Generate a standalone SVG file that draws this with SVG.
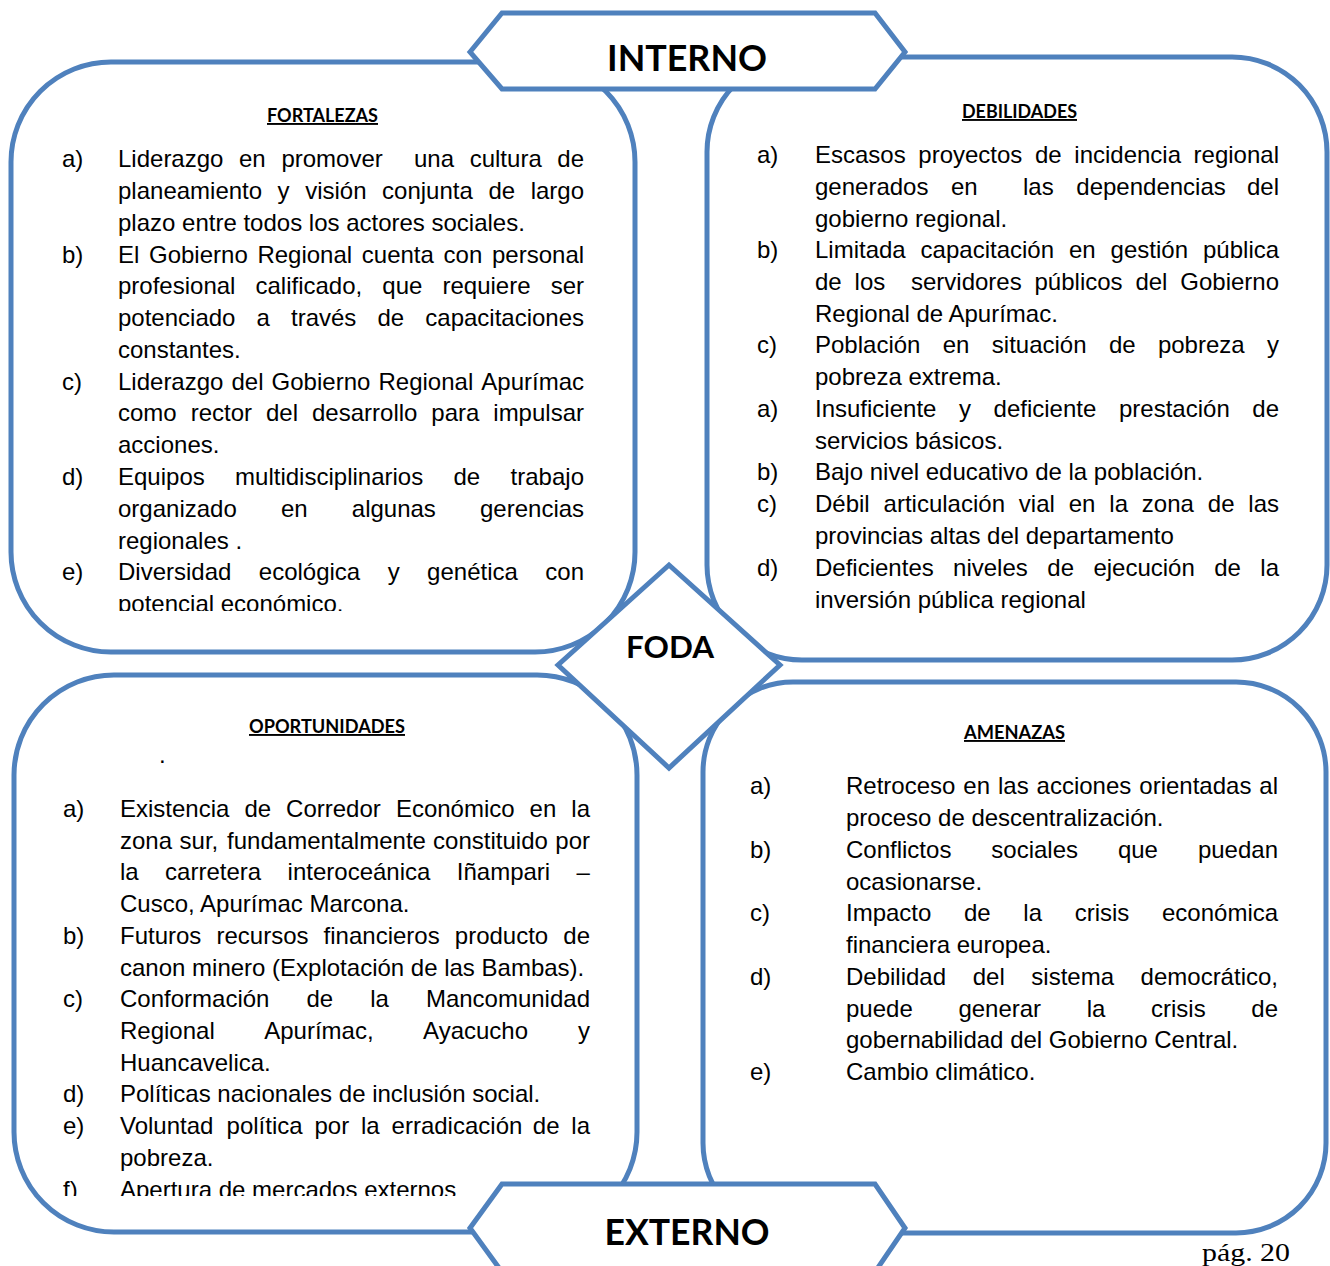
<svg xmlns="http://www.w3.org/2000/svg" width="1330" height="1266" viewBox="0 0 1330 1266">
<style>
.box{fill:#fff;stroke:#4f81bd;stroke-width:5}
.t{font-family:"Liberation Sans",Arial,sans-serif;font-size:24px;fill:#000}
.h{font-family:Lato,"Open Sans",sans-serif;font-weight:700;font-size:19px;fill:#000;text-decoration:underline;text-anchor:middle}
.big{font-family:Lato,"Open Sans",sans-serif;font-weight:700;fill:#000;text-anchor:middle}
.pg{font-family:"Liberation Serif","Times New Roman",serif;font-size:25px;fill:#000}
</style>
<defs>
<clipPath id="cf"><rect x="0" y="60" width="700" height="551"/></clipPath>
<clipPath id="co"><rect x="0" y="690" width="700" height="506"/></clipPath>
</defs>
<rect width="1330" height="1266" fill="#fff"/>

<g id="fortalezas">
<rect class="box" x="11" y="62" width="624" height="590" rx="100"/>
<text class="h" x="322.5" y="122" textLength="111" lengthAdjust="spacingAndGlyphs">FORTALEZAS</text>
<g class="t" clip-path="url(#cf)">
<text x="62" y="167">a)</text>
<text y="167"><tspan x="118">Liderazgo</tspan><tspan x="239">en</tspan><tspan x="281.4">promover</tspan><tspan x="414">una</tspan><tspan x="469.7">cultura</tspan><tspan x="557.3">de</tspan></text>
<text y="199"><tspan x="118">planeamiento</tspan><tspan x="277.6">y</tspan><tspan x="305.2">visión</tspan><tspan x="382.1">conjunta</tspan><tspan x="488.4">de</tspan><tspan x="530.7">largo</tspan></text>
<text x="118" y="231">plazo entre todos los actores sociales.</text>
<text x="62" y="263">b)</text>
<text y="263"><tspan x="118">El</tspan><tspan x="149">Gobierno</tspan><tspan x="257.4">Regional</tspan><tspan x="361.8">cuenta</tspan><tspan x="443.6">con</tspan><tspan x="492">personal</tspan></text>
<text y="294"><tspan x="118">profesional</tspan><tspan x="255.5">calificado,</tspan><tspan x="382.3">que</tspan><tspan x="442.5">requiere</tspan><tspan x="550.7">ser</tspan></text>
<text y="326"><tspan x="118">potenciado</tspan><tspan x="256.5">a</tspan><tspan x="291">través</tspan><tspan x="377.5">de</tspan><tspan x="425.3">capacitaciones</tspan></text>
<text x="118" y="358">constantes.</text>
<text x="62" y="390">c)</text>
<text y="390"><tspan x="118">Liderazgo</tspan><tspan x="231.5">del</tspan><tspan x="271.6">Gobierno</tspan><tspan x="378.5">Regional</tspan><tspan x="481.3">Apurímac</tspan></text>
<text y="421"><tspan x="118">como</tspan><tspan x="190.7">rector</tspan><tspan x="266">del</tspan><tspan x="312">desarrollo</tspan><tspan x="431.3">para</tspan><tspan x="493.3">impulsar</tspan></text>
<text x="118" y="453">acciones.</text>
<text x="62" y="485">d)</text>
<text y="485"><tspan x="118">Equipos</tspan><tspan x="235.1">multidisciplinarios</tspan><tspan x="453.5">de</tspan><tspan x="510.6">trabajo</tspan></text>
<text y="517"><tspan x="118">organizado</tspan><tspan x="280.9">en</tspan><tspan x="351.8">algunas</tspan><tspan x="480">gerencias</tspan></text>
<text x="118" y="549">regionales .</text>
<text x="62" y="580">e)</text>
<text y="580"><tspan x="118">Diversidad</tspan><tspan x="258.8">ecológica</tspan><tspan x="387.7">y</tspan><tspan x="427.1">genética</tspan><tspan x="545.3">con</tspan></text>
<text x="118" y="612">potencial económico.</text>
</g>
</g>

<g id="debilidades">
<rect class="box" x="707" y="57" width="620" height="603" rx="95"/>
<text class="h" x="1019.5" y="118" textLength="115" lengthAdjust="spacingAndGlyphs">DEBILIDADES</text>
<g class="t">
<text x="757" y="163">a)</text>
<text y="163"><tspan x="815">Escasos</tspan><tspan x="918.3">proyectos</tspan><tspan x="1035">de</tspan><tspan x="1074.3">incidencia</tspan><tspan x="1193.6">regional</tspan></text>
<text y="195"><tspan x="815">generados</tspan><tspan x="951">en</tspan><tspan x="1023">las</tspan><tspan x="1076.3">dependencias</tspan><tspan x="1247">del</tspan></text>
<text x="815" y="227">gobierno regional.</text>
<text x="757" y="258">b)</text>
<text y="258"><tspan x="815">Limitada</tspan><tspan x="920.6">capacitación</tspan><tspan x="1069">en</tspan><tspan x="1110.6">gestión</tspan><tspan x="1203">pública</tspan></text>
<text y="290"><tspan x="815">de</tspan><tspan x="854.6">los</tspan><tspan x="911">servidores</tspan><tspan x="1034.5">públicos</tspan><tspan x="1135.4">del</tspan><tspan x="1180.3">Gobierno</tspan></text>
<text x="815" y="322">Regional de Apurímac.</text>
<text x="757" y="353">c)</text>
<text y="353"><tspan x="815">Población</tspan><tspan x="942.7">en</tspan><tspan x="991.8">situación</tspan><tspan x="1108.9">de</tspan><tspan x="1157.9">pobreza</tspan><tspan x="1267">y</tspan></text>
<text x="815" y="385">pobreza extrema.</text>
<text x="757" y="417">a)</text>
<text y="417"><tspan x="815">Insuficiente</tspan><tspan x="959">y</tspan><tspan x="993.6">deficiente</tspan><tspan x="1119">prestación</tspan><tspan x="1252.3">de</tspan></text>
<text x="815" y="449">servicios básicos.</text>
<text x="757" y="480">b)</text>
<text x="815" y="480">Bajo nivel educativo de la población.</text>
<text x="757" y="512">c)</text>
<text y="512"><tspan x="815">Débil</tspan><tspan x="883.6">articulación</tspan><tspan x="1018.8">vial</tspan><tspan x="1068.7">en</tspan><tspan x="1109.3">la</tspan><tspan x="1141.8">zona</tspan><tspan x="1207.8">de</tspan><tspan x="1248.3">las</tspan></text>
<text x="815" y="544">provincias altas del departamento</text>
<text x="757" y="576">d)</text>
<text y="576"><tspan x="815">Deficientes</tspan><tspan x="953.1">niveles</tspan><tspan x="1047.3">de</tspan><tspan x="1093.4">ejecución</tspan><tspan x="1214.2">de</tspan><tspan x="1260.3">la</tspan></text>
<text x="815" y="608">inversión pública regional</text>
</g>
</g>

<g id="oportunidades">
<rect class="box" x="14" y="675" width="623" height="557" rx="100"/>
<text class="h" x="327" y="733" textLength="156" lengthAdjust="spacingAndGlyphs">OPORTUNIDADES</text>
<g class="t" clip-path="url(#co)">
<text x="159" y="763">.</text>
<text x="63" y="817">a)</text>
<text y="817"><tspan x="120">Existencia</tspan><tspan x="244.4">de</tspan><tspan x="286.1">Corredor</tspan><tspan x="395.9">Económico</tspan><tspan x="529.6">en</tspan><tspan x="571.3">la</tspan></text>
<text y="849"><tspan x="120">zona</tspan><tspan x="179.6">sur,</tspan><tspan x="227.1">fundamentalmente</tspan><tspan x="433.1">constituido</tspan><tspan x="555.3">por</tspan></text>
<text y="880"><tspan x="120">la</tspan><tspan x="165.1">carretera</tspan><tspan x="287.6">interoceánica</tspan><tspan x="456.8">Iñampari</tspan><tspan x="576.6">–</tspan></text>
<text x="120" y="912">Cusco, Apurímac Marcona.</text>
<text x="63" y="944">b)</text>
<text y="944"><tspan x="120">Futuros</tspan><tspan x="216.5">recursos</tspan><tspan x="323.6">financieros</tspan><tspan x="454.8">producto</tspan><tspan x="563.3">de</tspan></text>
<text x="120" y="976">canon minero (Explotación de las Bambas).</text>
<text x="63" y="1007">c)</text>
<text y="1007"><tspan x="120">Conformación</tspan><tspan x="306.4">de</tspan><tspan x="370.2">la</tspan><tspan x="425.9">Mancomunidad</tspan></text>
<text y="1039"><tspan x="120">Regional</tspan><tspan x="264.2">Apurímac,</tspan><tspan x="423.1">Ayacucho</tspan><tspan x="578">y</tspan></text>
<text x="120" y="1071">Huancavelica.</text>
<text x="63" y="1102">d)</text>
<text x="120" y="1102">Políticas nacionales de inclusión social.</text>
<text x="63" y="1134">e)</text>
<text y="1134"><tspan x="120">Voluntad</tspan><tspan x="226.6">política</tspan><tspan x="314.5">por</tspan><tspan x="361">la</tspan><tspan x="391.6">erradicación</tspan><tspan x="532.8">de</tspan><tspan x="571.3">la</tspan></text>
<text x="120" y="1166">pobreza.</text>
<text x="63" y="1198">f)</text>
<text x="120" y="1198">Apertura de mercados externos</text>
</g>
</g>

<g id="amenazas">
<rect class="box" x="703" y="682" width="623" height="551" rx="90"/>
<text class="h" x="1014.5" y="739" textLength="101" lengthAdjust="spacingAndGlyphs">AMENAZAS</text>
<g class="t">
<text x="750" y="794">a)</text>
<text y="794"><tspan x="846">Retroceso</tspan><tspan x="963.3">en</tspan><tspan x="998">las</tspan><tspan x="1036.6">acciones</tspan><tspan x="1139.3">orientadas</tspan><tspan x="1259.3">al</tspan></text>
<text x="846" y="826">proceso de descentralización.</text>
<text x="750" y="858">b)</text>
<text y="858"><tspan x="846">Conflictos</tspan><tspan x="991.3">sociales</tspan><tspan x="1117.9">que</tspan><tspan x="1197.9">puedan</tspan></text>
<text x="846" y="890">ocasionarse.</text>
<text x="750" y="921">c)</text>
<text y="921"><tspan x="846">Impacto</tspan><tspan x="964">de</tspan><tspan x="1023.3">la</tspan><tspan x="1074.7">crisis</tspan><tspan x="1162">económica</tspan></text>
<text x="846" y="953">financiera europea.</text>
<text x="750" y="985">d)</text>
<text y="985"><tspan x="846">Debilidad</tspan><tspan x="972.7">del</tspan><tspan x="1031.3">sistema</tspan><tspan x="1140.6">democrático,</tspan></text>
<text y="1017"><tspan x="846">puede</tspan><tspan x="958.4">generar</tspan><tspan x="1086.7">la</tspan><tspan x="1151">crisis</tspan><tspan x="1251.3">de</tspan></text>
<text x="846" y="1048">gobernabilidad del Gobierno Central.</text>
<text x="750" y="1080">e)</text>
<text x="846" y="1080">Cambio climático.</text>
</g>
</g>

<g id="interno">
<polygon class="box" points="470,52 502,13 875,13 905,52 875,89 502,89"/>
<text class="big" x="687" y="71" font-size="37" textLength="160" lengthAdjust="spacingAndGlyphs">INTERNO</text>
</g>

<g id="externo">
<polygon class="box" points="470,1228 502,1184 875,1184 905,1228 875,1272 502,1272"/>
<text class="big" x="687" y="1245" font-size="37" textLength="165" lengthAdjust="spacingAndGlyphs">EXTERNO</text>
</g>

<g id="foda">
<polygon class="box" points="669,565 780,665 669,768 558,665"/>
<text class="big" x="670" y="658" font-size="31" textLength="88" lengthAdjust="spacingAndGlyphs">FODA</text>
</g>

<g id="connectors"></g>

<text class="pg" x="1202" y="1261" textLength="88" lengthAdjust="spacingAndGlyphs">pág. 20</text>
</svg>
